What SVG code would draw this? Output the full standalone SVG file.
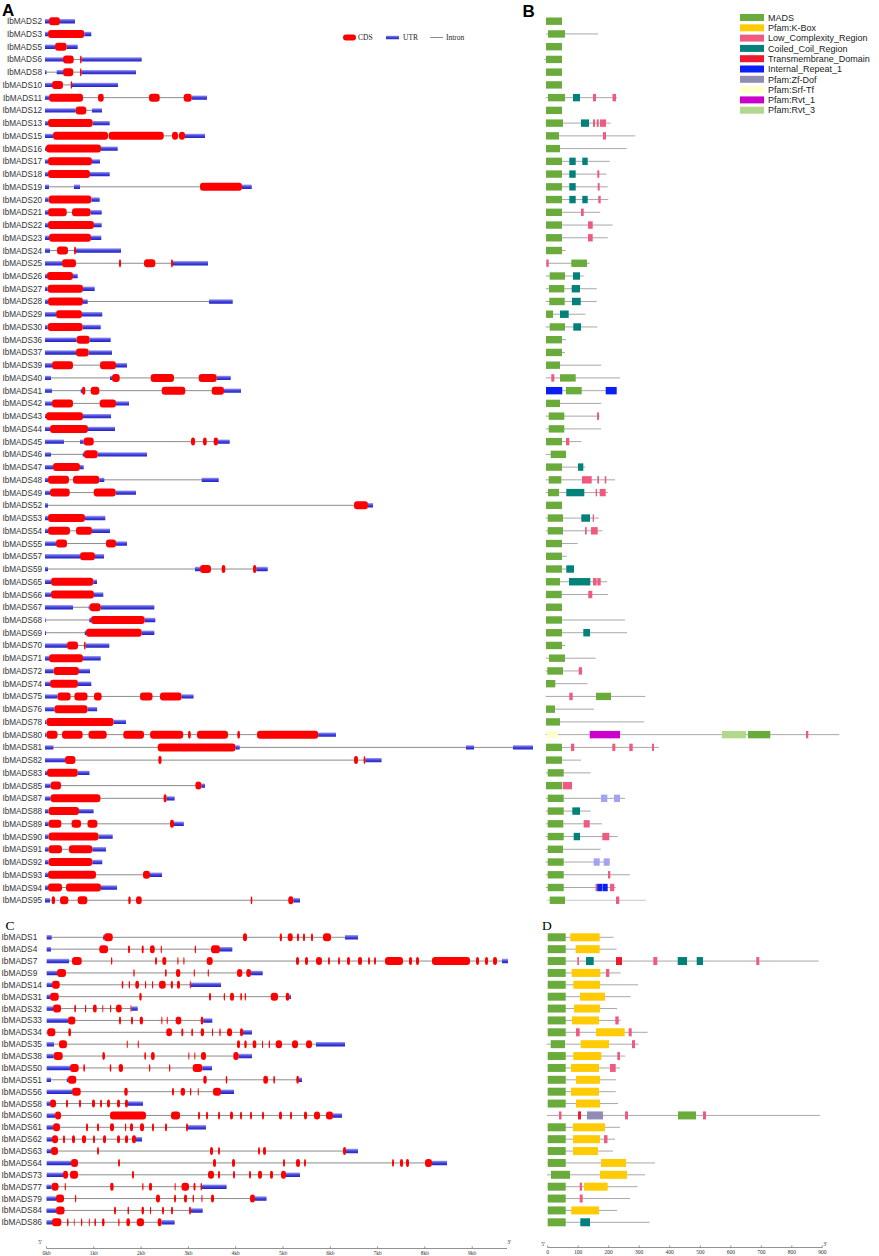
<svg xmlns="http://www.w3.org/2000/svg" width="879" height="1256" viewBox="0 0 879 1256">
<defs>
<linearGradient id="ug" gradientUnits="userSpaceOnUse" x1="0" y1="-2.2" x2="0" y2="2.2"><stop offset="0" stop-color="#a4a4f2"/><stop offset="0.45" stop-color="#4848de"/><stop offset="1" stop-color="#2222c4"/></linearGradient>
</defs>
<style>
text{font-family:"Liberation Sans",Arial,sans-serif}
.ta{font-size:8.2px;fill:#333;text-anchor:end}
.tc{font-size:8.4px;fill:#333}
.i{stroke:#8c8c8c;stroke-width:1;fill:none}
.u{stroke:url(#ug);stroke-width:4.4;fill:none}
.c{fill:#ff0000}
.bl{stroke:#a8a8a8;stroke-width:1;fill:none}
.m{fill:#6aac3c}
.k{fill:#ffcb05}
.lc{fill:#ef5b80}
.cc{fill:#00817a}
.tm{fill:#ec1b2e}
.ir{fill:#0a1ff5}
.zf{fill:#908cb4}
.sr{fill:#ffffcc}
.r1{fill:#cc00cc}
.r3{fill:#b2d88c}
.lv{fill:#a3a3f5}
.ax{stroke:#777;stroke-width:0.8;fill:none}
.tx{font-family:"Liberation Serif","Times New Roman",serif;font-size:5.5px;fill:#333;text-anchor:middle}
.lg{font-size:9px;fill:#222}
.ls{font-family:"Liberation Serif","Times New Roman",serif;font-size:7.5px;fill:#222}
.pa{font-size:17px;font-weight:bold;fill:#000}
.pc{font-family:"Liberation Serif","Times New Roman",serif;font-size:13.5px;fill:#000}
</style>
<rect width="879" height="1256" fill="#fff"/>
<g id="panel-labels">
<text class="pa" x="2" y="16">A</text>
<text class="pa" x="522.5" y="17">B</text>
<text class="pc" x="5.5" y="929.5">C</text>
<text class="pc" x="542" y="930">D</text>
</g>
<g id="legend-A">
<rect class="c" x="343" y="34.5" width="13" height="6" rx="3"/>
<text class="ls" x="358" y="40">CDS</text>
<g transform="translate(0,37.5)"><path class="u" style="stroke-width:3.5" d="M386 0H399"/></g>
<text class="ls" x="403" y="40">UTR</text>
<path class="i" d="M430 37.5H443"/>
<text class="ls" x="446" y="40">Intron</text>
</g>
<g id="legend-B">
<rect class="m" x="740" y="14" width="24" height="7"/><text class="lg" x="768" y="20.7">MADS</text>
<rect class="k" x="740" y="24.3" width="24" height="7"/><text class="lg" x="768" y="31">Pfam:K-Box</text>
<rect class="lc" x="740" y="34.6" width="24" height="7"/><text class="lg" x="768" y="41.3">Low_Complexity_Region</text>
<rect class="cc" x="740" y="44.9" width="24" height="7"/><text class="lg" x="768" y="51.6">Coiled_Coil_Region</text>
<rect class="tm" x="740" y="55.2" width="24" height="7"/><text class="lg" x="768" y="61.9">Transmembrane_Domain</text>
<rect class="ir" x="740" y="65.5" width="24" height="7"/><text class="lg" x="768" y="72.2">Internal_Repeat_1</text>
<rect class="zf" x="740" y="75.8" width="24" height="7"/><text class="lg" x="768" y="82.5">Pfam:Zf-Dof</text>
<rect class="sr" x="740" y="86.1" width="24" height="7"/><text class="lg" x="768" y="92.8">Pfam:Srf-Tf</text>
<rect class="r1" x="740" y="96.4" width="24" height="7"/><text class="lg" x="768" y="103.1">Pfam:Rvt_1</text>
<rect class="r3" x="740" y="106.7" width="24" height="7"/><text class="lg" x="768" y="113.4">Pfam:Rvt_3</text>
</g>
<g id="panel-A">
<g id="A-IbMADS2" transform="translate(0,21.2)"><text class="ta" x="42" y="3">IbMADS2</text><path class="u" d="M45 0H49M60 0H75"/><g class="c"><rect x="49" y="-4" width="11" height="8" rx="3"/></g></g>
<g id="A-IbMADS3" transform="translate(0,33.94)"><text class="ta" x="42" y="3">IbMADS3</text><path class="u" d="M45 0H48M84.3 0H91.3"/><g class="c"><rect x="48" y="-4" width="36.3" height="8" rx="3"/></g></g>
<g id="A-IbMADS5" transform="translate(0,46.68)"><text class="ta" x="42" y="3">IbMADS5</text><path class="u" d="M45 0H55M66.7 0H77.7"/><g class="c"><rect x="55" y="-4" width="11.7" height="8" rx="3"/></g></g>
<g id="A-IbMADS6" transform="translate(0,59.42)"><text class="ta" x="42" y="3">IbMADS6</text><path class="i" d="M45 0H141.7"/><path class="u" d="M45 0H63M81.7 0H141.7"/><g class="c"><rect x="63" y="-4" width="10.7" height="8" rx="3"/><rect x="80" y="-4" width="1.7" height="8" rx="3"/></g></g>
<g id="A-IbMADS8" transform="translate(0,72.16)"><text class="ta" x="42" y="3">IbMADS8</text><path class="i" d="M45 0H136"/><path class="u" d="M45 0H46.5M56.7 0H63M81.3 0H136"/><g class="c"><rect x="63" y="-4" width="10.3" height="8" rx="3"/><rect x="80" y="-4" width="1.5" height="8" rx="3"/></g></g>
<g id="A-IbMADS10" transform="translate(0,84.9)"><text class="ta" x="42" y="3">IbMADS10</text><path class="i" d="M45 0H118"/><path class="u" d="M45 0H52M71.9 0H118"/><g class="c"><rect x="52" y="-4" width="11" height="8" rx="3"/><rect x="70.7" y="-4" width="1.5" height="8" rx="3"/></g></g>
<g id="A-IbMADS11" transform="translate(0,97.64)"><text class="ta" x="42" y="3">IbMADS11</text><path class="i" d="M45 0H207"/><path class="u" d="M45 0H49M191.7 0H207"/><g class="c"><rect x="49" y="-4" width="34" height="8" rx="3"/><rect x="98" y="-4" width="5.7" height="8" rx="3"/><rect x="149" y="-4" width="10.7" height="8" rx="3"/><rect x="183.7" y="-4" width="8" height="8" rx="3"/></g></g>
<g id="A-IbMADS12" transform="translate(0,110.38)"><text class="ta" x="42" y="3">IbMADS12</text><path class="i" d="M45 0H102"/><path class="u" d="M45 0H75.7M92 0H102"/><g class="c"><rect x="75.7" y="-4" width="10.6" height="8" rx="3"/></g></g>
<g id="A-IbMADS13" transform="translate(0,123.12)"><text class="ta" x="42" y="3">IbMADS13</text><path class="u" d="M45 0H48M92.7 0H109.7"/><g class="c"><rect x="48" y="-4" width="44.7" height="8" rx="3"/></g></g>
<g id="A-IbMADS15" transform="translate(0,135.86)"><text class="ta" x="42" y="3">IbMADS15</text><path class="i" d="M45 0H205"/><path class="u" d="M45 0H53M185 0H205"/><g class="c"><rect x="53" y="-4" width="55" height="8" rx="3"/><rect x="108.7" y="-4" width="55" height="8" rx="3"/><rect x="172" y="-4" width="6" height="8" rx="3"/><rect x="179" y="-4" width="6" height="8" rx="3"/></g></g>
<g id="A-IbMADS16" transform="translate(0,148.6)"><text class="ta" x="42" y="3">IbMADS16</text><path class="u" d="M45 0H46M101 0H117.7"/><g class="c"><rect x="46" y="-4" width="55" height="8" rx="3"/></g></g>
<g id="A-IbMADS17" transform="translate(0,161.34)"><text class="ta" x="42" y="3">IbMADS17</text><path class="u" d="M45 0H48M92 0H100"/><g class="c"><rect x="48" y="-4" width="44" height="8" rx="3"/></g></g>
<g id="A-IbMADS18" transform="translate(0,174.08)"><text class="ta" x="42" y="3">IbMADS18</text><path class="u" d="M45 0H48M90 0H109.7"/><g class="c"><rect x="48" y="-4" width="42" height="8" rx="3"/></g></g>
<g id="A-IbMADS19" transform="translate(0,186.82)"><text class="ta" x="42" y="3">IbMADS19</text><path class="i" d="M45 0H251.7"/><path class="u" d="M45 0H49M74 0H80M242 0H251.7"/><g class="c"><rect x="200" y="-4" width="42" height="8" rx="3"/></g></g>
<g id="A-IbMADS20" transform="translate(0,199.56)"><text class="ta" x="42" y="3">IbMADS20</text><path class="u" d="M45 0H48.7M91.3 0H99.7"/><g class="c"><rect x="48.7" y="-4" width="42.6" height="8" rx="3"/></g></g>
<g id="A-IbMADS21" transform="translate(0,212.3)"><text class="ta" x="42" y="3">IbMADS21</text><path class="i" d="M45 0H101.7"/><path class="u" d="M45 0H48M90.7 0H101.7"/><g class="c"><rect x="48" y="-4" width="18.7" height="8" rx="3"/><rect x="72" y="-4" width="18.7" height="8" rx="3"/></g></g>
<g id="A-IbMADS22" transform="translate(0,225.04)"><text class="ta" x="42" y="3">IbMADS22</text><path class="u" d="M45 0H48M94 0H101.7"/><g class="c"><rect x="48" y="-4" width="46" height="8" rx="3"/></g></g>
<g id="A-IbMADS23" transform="translate(0,237.78)"><text class="ta" x="42" y="3">IbMADS23</text><path class="u" d="M45 0H49M91 0H101.3"/><g class="c"><rect x="49" y="-4" width="42" height="8" rx="3"/></g></g>
<g id="A-IbMADS24" transform="translate(0,250.52)"><text class="ta" x="42" y="3">IbMADS24</text><path class="i" d="M45 0H121"/><path class="u" d="M45 0H50M76 0H121"/><g class="c"><rect x="57" y="-4" width="11" height="8" rx="3"/><rect x="74" y="-4" width="2" height="8" rx="3"/></g></g>
<g id="A-IbMADS25" transform="translate(0,263.26)"><text class="ta" x="42" y="3">IbMADS25</text><path class="i" d="M45 0H208"/><path class="u" d="M45 0H62M173 0H208"/><g class="c"><rect x="62" y="-4" width="14" height="8" rx="3"/><rect x="119" y="-4" width="2" height="8" rx="3"/><rect x="144" y="-4" width="11.3" height="8" rx="3"/><rect x="171" y="-4" width="2" height="8" rx="3"/></g></g>
<g id="A-IbMADS26" transform="translate(0,276)"><text class="ta" x="42" y="3">IbMADS26</text><path class="u" d="M45 0H47M73 0H77.7"/><g class="c"><rect x="47" y="-4" width="26" height="8" rx="3"/></g></g>
<g id="A-IbMADS27" transform="translate(0,288.74)"><text class="ta" x="42" y="3">IbMADS27</text><path class="u" d="M45 0H47.7M83 0H94.7"/><g class="c"><rect x="47.7" y="-4" width="35.3" height="8" rx="3"/></g></g>
<g id="A-IbMADS28" transform="translate(0,301.48)"><text class="ta" x="42" y="3">IbMADS28</text><path class="i" d="M45 0H232.7"/><path class="u" d="M45 0H48M83 0H87.7M209 0H232.7"/><g class="c"><rect x="48" y="-4" width="35" height="8" rx="3"/></g></g>
<g id="A-IbMADS29" transform="translate(0,314.22)"><text class="ta" x="42" y="3">IbMADS29</text><path class="u" d="M45 0H56M82 0H102.3"/><g class="c"><rect x="56" y="-4" width="26" height="8" rx="3"/></g></g>
<g id="A-IbMADS30" transform="translate(0,326.96)"><text class="ta" x="42" y="3">IbMADS30</text><path class="u" d="M45 0H47.7M82.7 0H100.7"/><g class="c"><rect x="47.7" y="-4" width="35" height="8" rx="3"/></g></g>
<g id="A-IbMADS36" transform="translate(0,339.7)"><text class="ta" x="42" y="3">IbMADS36</text><path class="u" d="M45 0H76.7M89.7 0H110.7"/><g class="c"><rect x="76.7" y="-4" width="13" height="8" rx="3"/></g></g>
<g id="A-IbMADS37" transform="translate(0,352.44)"><text class="ta" x="42" y="3">IbMADS37</text><path class="u" d="M45 0H76M88.7 0H112"/><g class="c"><rect x="76" y="-4" width="12.7" height="8" rx="3"/></g></g>
<g id="A-IbMADS39" transform="translate(0,365.18)"><text class="ta" x="42" y="3">IbMADS39</text><path class="i" d="M45 0H127"/><path class="u" d="M45 0H52M116 0H127"/><g class="c"><rect x="52" y="-4" width="21" height="8" rx="3"/><rect x="100" y="-4" width="16" height="8" rx="3"/></g></g>
<g id="A-IbMADS40" transform="translate(0,377.92)"><text class="ta" x="42" y="3">IbMADS40</text><path class="i" d="M45 0H230.7"/><path class="u" d="M45 0H51M110 0H112M216.7 0H230.7"/><g class="c"><rect x="112" y="-4" width="7.7" height="8" rx="3"/><rect x="150.7" y="-4" width="23.3" height="8" rx="3"/><rect x="198.7" y="-4" width="18" height="8" rx="3"/></g></g>
<g id="A-IbMADS41" transform="translate(0,390.66)"><text class="ta" x="42" y="3">IbMADS41</text><path class="i" d="M45 0H241"/><path class="u" d="M45 0H52M80.7 0H82M224 0H241"/><g class="c"><rect x="82" y="-4" width="3.3" height="8" rx="3"/><rect x="90.7" y="-4" width="8.6" height="8" rx="3"/><rect x="161.7" y="-4" width="23.6" height="8" rx="3"/><rect x="211.7" y="-4" width="12.3" height="8" rx="3"/></g></g>
<g id="A-IbMADS42" transform="translate(0,403.4)"><text class="ta" x="42" y="3">IbMADS42</text><path class="i" d="M45 0H129"/><path class="u" d="M45 0H52M116 0H129"/><g class="c"><rect x="52" y="-4" width="21" height="8" rx="3"/><rect x="99.7" y="-4" width="16.3" height="8" rx="3"/></g></g>
<g id="A-IbMADS43" transform="translate(0,416.14)"><text class="ta" x="42" y="3">IbMADS43</text><path class="u" d="M45 0H46M83 0H111"/><g class="c"><rect x="46" y="-4" width="37" height="8" rx="3"/></g></g>
<g id="A-IbMADS44" transform="translate(0,428.88)"><text class="ta" x="42" y="3">IbMADS44</text><path class="u" d="M45 0H50M88 0H115"/><g class="c"><rect x="50" y="-4" width="38" height="8" rx="3"/></g></g>
<g id="A-IbMADS45" transform="translate(0,441.62)"><text class="ta" x="42" y="3">IbMADS45</text><path class="i" d="M45 0H229.7"/><path class="u" d="M45 0H64M80 0H83.7M218 0H229.7"/><g class="c"><rect x="83.7" y="-4" width="10" height="8" rx="3"/><rect x="191" y="-4" width="4" height="8" rx="3"/><rect x="203" y="-4" width="3.7" height="8" rx="3"/><rect x="213.7" y="-4" width="4.3" height="8" rx="3"/></g></g>
<g id="A-IbMADS46" transform="translate(0,454.36)"><text class="ta" x="42" y="3">IbMADS46</text><path class="i" d="M45 0H147"/><path class="u" d="M45 0H51M82.7 0H84M97.7 0H147"/><g class="c"><rect x="84" y="-4" width="13.7" height="8" rx="3"/></g></g>
<g id="A-IbMADS47" transform="translate(0,467.1)"><text class="ta" x="42" y="3">IbMADS47</text><path class="u" d="M45 0H53M80 0H83.7"/><g class="c"><rect x="53" y="-4" width="27" height="8" rx="3"/></g></g>
<g id="A-IbMADS48" transform="translate(0,479.84)"><text class="ta" x="42" y="3">IbMADS48</text><path class="i" d="M45 0H218.7"/><path class="u" d="M45 0H48M99.3 0H104.3M201.7 0H218.7"/><g class="c"><rect x="48" y="-4" width="21" height="8" rx="3"/><rect x="73" y="-4" width="26.3" height="8" rx="3"/></g></g>
<g id="A-IbMADS49" transform="translate(0,492.58)"><text class="ta" x="42" y="3">IbMADS49</text><path class="i" d="M45 0H136"/><path class="u" d="M45 0H50M115.7 0H136"/><g class="c"><rect x="50" y="-4" width="19.7" height="8" rx="3"/><rect x="93.7" y="-4" width="22" height="8" rx="3"/></g></g>
<g id="A-IbMADS52" transform="translate(0,505.32)"><text class="ta" x="42" y="3">IbMADS52</text><path class="i" d="M45 0H373"/><path class="u" d="M45 0H48M368 0H373"/><g class="c"><rect x="354" y="-4" width="14" height="8" rx="3"/></g></g>
<g id="A-IbMADS53" transform="translate(0,518.06)"><text class="ta" x="42" y="3">IbMADS53</text><path class="u" d="M45 0H48M85 0H105.3"/><g class="c"><rect x="48" y="-4" width="37" height="8" rx="3"/></g></g>
<g id="A-IbMADS54" transform="translate(0,530.8)"><text class="ta" x="42" y="3">IbMADS54</text><path class="i" d="M45 0H110"/><path class="u" d="M45 0H48M92 0H110"/><g class="c"><rect x="48" y="-4" width="22" height="8" rx="3"/><rect x="76" y="-4" width="16" height="8" rx="3"/></g></g>
<g id="A-IbMADS55" transform="translate(0,543.54)"><text class="ta" x="42" y="3">IbMADS55</text><path class="i" d="M45 0H127"/><path class="u" d="M45 0H56M116 0H127"/><g class="c"><rect x="56" y="-4" width="11" height="8" rx="3"/><rect x="106" y="-4" width="10" height="8" rx="3"/></g></g>
<g id="A-IbMADS57" transform="translate(0,556.28)"><text class="ta" x="42" y="3">IbMADS57</text><path class="u" d="M45 0H80M95 0H104"/><g class="c"><rect x="80" y="-4" width="15" height="8" rx="3"/></g></g>
<g id="A-IbMADS59" transform="translate(0,569.02)"><text class="ta" x="42" y="3">IbMADS59</text><path class="i" d="M45 0H267.7"/><path class="u" d="M45 0H48M195 0H200M256.3 0H267.7"/><g class="c"><rect x="200" y="-4" width="11" height="8" rx="3"/><rect x="221.7" y="-4" width="3.6" height="8" rx="3"/><rect x="253" y="-4" width="3.3" height="8" rx="3"/></g></g>
<g id="A-IbMADS65" transform="translate(0,581.76)"><text class="ta" x="42" y="3">IbMADS65</text><path class="u" d="M45 0H51M93.3 0H97"/><g class="c"><rect x="51" y="-4" width="42.3" height="8" rx="3"/></g></g>
<g id="A-IbMADS66" transform="translate(0,594.5)"><text class="ta" x="42" y="3">IbMADS66</text><path class="u" d="M45 0H51M94 0H103.3"/><g class="c"><rect x="51" y="-4" width="43" height="8" rx="3"/></g></g>
<g id="A-IbMADS67" transform="translate(0,607.24)"><text class="ta" x="42" y="3">IbMADS67</text><path class="i" d="M45 0H154.3"/><path class="u" d="M45 0H73M88.7 0H89.7M100.7 0H154.3"/><g class="c"><rect x="89.7" y="-4" width="11" height="8" rx="3"/></g></g>
<g id="A-IbMADS68" transform="translate(0,619.98)"><text class="ta" x="42" y="3">IbMADS68</text><path class="i" d="M45 0H155.3"/><path class="u" d="M45 0H45.7M89.3 0H91M144.7 0H155.3"/><g class="c"><rect x="91" y="-4" width="53.7" height="8" rx="3"/></g></g>
<g id="A-IbMADS69" transform="translate(0,632.72)"><text class="ta" x="42" y="3">IbMADS69</text><path class="i" d="M45 0H154.3"/><path class="u" d="M45 0H46M84.7 0H86M141.7 0H154.3"/><g class="c"><rect x="86" y="-4" width="55.7" height="8" rx="3"/></g></g>
<g id="A-IbMADS70" transform="translate(0,645.46)"><text class="ta" x="42" y="3">IbMADS70</text><path class="i" d="M45 0H109.3"/><path class="u" d="M45 0H67M85.7 0H109.3"/><g class="c"><rect x="67" y="-4" width="11" height="8" rx="3"/><rect x="84" y="-4" width="1.7" height="8" rx="3"/></g></g>
<g id="A-IbMADS71" transform="translate(0,658.2)"><text class="ta" x="42" y="3">IbMADS71</text><path class="u" d="M45 0H49M83 0H100.7"/><g class="c"><rect x="49" y="-4" width="34" height="8" rx="3"/></g></g>
<g id="A-IbMADS72" transform="translate(0,670.94)"><text class="ta" x="42" y="3">IbMADS72</text><path class="u" d="M45 0H53.7M79 0H90"/><g class="c"><rect x="53.7" y="-4" width="25.3" height="8" rx="3"/></g></g>
<g id="A-IbMADS74" transform="translate(0,683.68)"><text class="ta" x="42" y="3">IbMADS74</text><path class="u" d="M45 0H50M78 0H91.3"/><g class="c"><rect x="50" y="-4" width="28" height="8" rx="3"/></g></g>
<g id="A-IbMADS75" transform="translate(0,696.42)"><text class="ta" x="42" y="3">IbMADS75</text><path class="i" d="M45 0H193.5"/><path class="u" d="M45 0H57.5M181.5 0H193.5"/><g class="c"><rect x="57.5" y="-4" width="13.1" height="8" rx="3"/><rect x="74.4" y="-4" width="13.1" height="8" rx="3"/><rect x="94" y="-4" width="7.6" height="8" rx="3"/><rect x="140" y="-4" width="12.5" height="8" rx="3"/><rect x="160" y="-4" width="21.5" height="8" rx="3"/></g></g>
<g id="A-IbMADS76" transform="translate(0,709.16)"><text class="ta" x="42" y="3">IbMADS76</text><path class="u" d="M45 0H54.4M87.5 0H97.1"/><g class="c"><rect x="54.4" y="-4" width="33.1" height="8" rx="3"/></g></g>
<g id="A-IbMADS78" transform="translate(0,721.9)"><text class="ta" x="42" y="3">IbMADS78</text><path class="u" d="M45 0H46.5M113.6 0H126"/><g class="c"><rect x="46.5" y="-4" width="67.1" height="8" rx="3"/></g></g>
<g id="A-IbMADS80" transform="translate(0,734.64)"><text class="ta" x="42" y="3">IbMADS80</text><path class="i" d="M45 0H336"/><path class="u" d="M45 0H46.5M318.2 0H336"/><g class="c"><rect x="46.5" y="-4" width="11" height="8" rx="3"/><rect x="62" y="-4" width="20.6" height="8" rx="3"/><rect x="88.5" y="-4" width="18.2" height="8" rx="3"/><rect x="123.3" y="-4" width="20.7" height="8" rx="3"/><rect x="150.1" y="-4" width="33.1" height="8" rx="3"/><rect x="188" y="-4" width="2.8" height="8" rx="3"/><rect x="197" y="-4" width="31" height="8" rx="3"/><rect x="237.3" y="-4" width="2.7" height="8" rx="3"/><rect x="257" y="-4" width="61.2" height="8" rx="3"/></g></g>
<g id="A-IbMADS81" transform="translate(0,747.38)"><text class="ta" x="42" y="3">IbMADS81</text><path class="i" d="M45 0H533"/><path class="u" d="M45 0H53.4M235.5 0H239.7M466 0H474M513 0H533"/><g class="c"><rect x="157.7" y="-4" width="77.8" height="8" rx="3"/></g></g>
<g id="A-IbMADS82" transform="translate(0,760.12)"><text class="ta" x="42" y="3">IbMADS82</text><path class="i" d="M45 0H381.5"/><path class="u" d="M45 0H65M365.3 0H381.5"/><g class="c"><rect x="65" y="-4" width="10.4" height="8" rx="3"/><rect x="158.3" y="-4" width="3.3" height="8" rx="3"/><rect x="354" y="-4" width="4" height="8" rx="3"/><rect x="363.6" y="-4" width="1.7" height="8" rx="3"/></g></g>
<g id="A-IbMADS83" transform="translate(0,772.86)"><text class="ta" x="42" y="3">IbMADS83</text><path class="u" d="M45 0H47M77.8 0H89.5"/><g class="c"><rect x="47" y="-4" width="30.8" height="8" rx="3"/></g></g>
<g id="A-IbMADS85" transform="translate(0,785.6)"><text class="ta" x="42" y="3">IbMADS85</text><path class="i" d="M45 0H205"/><path class="u" d="M45 0H50.6M201.4 0H205"/><g class="c"><rect x="50.6" y="-4" width="10.4" height="8" rx="3"/><rect x="195.4" y="-4" width="6" height="8" rx="3"/></g></g>
<g id="A-IbMADS87" transform="translate(0,798.34)"><text class="ta" x="42" y="3">IbMADS87</text><path class="i" d="M45 0H174.6"/><path class="u" d="M45 0H50.6M166.6 0H174.6"/><g class="c"><rect x="50.6" y="-4" width="49.8" height="8" rx="3"/><rect x="163.6" y="-4" width="3" height="8" rx="3"/></g></g>
<g id="A-IbMADS88" transform="translate(0,811.08)"><text class="ta" x="42" y="3">IbMADS88</text><path class="u" d="M45 0H48.6M79 0H93.6"/><g class="c"><rect x="48.6" y="-4" width="30.4" height="8" rx="3"/></g></g>
<g id="A-IbMADS89" transform="translate(0,823.82)"><text class="ta" x="42" y="3">IbMADS89</text><path class="i" d="M45 0H183.8"/><path class="u" d="M45 0H48.6M174 0H183.8"/><g class="c"><rect x="48.6" y="-4" width="12.7" height="8" rx="3"/><rect x="71.6" y="-4" width="9.4" height="8" rx="3"/><rect x="87.5" y="-4" width="9.9" height="8" rx="3"/><rect x="170" y="-4" width="4" height="8" rx="3"/></g></g>
<g id="A-IbMADS90" transform="translate(0,836.56)"><text class="ta" x="42" y="3">IbMADS90</text><path class="u" d="M45 0H48.6M98.5 0H112.7"/><g class="c"><rect x="48.6" y="-4" width="49.9" height="8" rx="3"/></g></g>
<g id="A-IbMADS91" transform="translate(0,849.3)"><text class="ta" x="42" y="3">IbMADS91</text><path class="i" d="M45 0H106"/><path class="u" d="M45 0H48.6M92.3 0H106"/><g class="c"><rect x="48.6" y="-4" width="13.4" height="8" rx="3"/><rect x="68.9" y="-4" width="23.4" height="8" rx="3"/></g></g>
<g id="A-IbMADS92" transform="translate(0,862.04)"><text class="ta" x="42" y="3">IbMADS92</text><path class="u" d="M45 0H48.6M92.3 0H102.3"/><g class="c"><rect x="48.6" y="-4" width="43.7" height="8" rx="3"/></g></g>
<g id="A-IbMADS93" transform="translate(0,874.78)"><text class="ta" x="42" y="3">IbMADS93</text><path class="i" d="M45 0H162"/><path class="u" d="M45 0H48M150 0H162"/><g class="c"><rect x="48" y="-4" width="48" height="8" rx="3"/><rect x="143" y="-4" width="7" height="8" rx="3"/></g></g>
<g id="A-IbMADS94" transform="translate(0,887.52)"><text class="ta" x="42" y="3">IbMADS94</text><path class="i" d="M45 0H117"/><path class="u" d="M45 0H48M101 0H117"/><g class="c"><rect x="48" y="-4" width="14" height="8" rx="3"/><rect x="66" y="-4" width="35" height="8" rx="3"/></g></g>
<g id="A-IbMADS95" transform="translate(0,900.26)"><text class="ta" x="42" y="3">IbMADS95</text><path class="i" d="M45 0H300"/><path class="u" d="M45 0H50M293.3 0H300"/><g class="c"><rect x="51.7" y="-4" width="3.3" height="8" rx="3"/><rect x="60" y="-4" width="8.3" height="8" rx="3"/><rect x="77.7" y="-4" width="9.6" height="8" rx="3"/><rect x="128.3" y="-4" width="2.4" height="8" rx="3"/><rect x="136" y="-4" width="5.7" height="8" rx="3"/><rect x="250.7" y="-4" width="1.6" height="8" rx="3"/><rect x="288.3" y="-4" width="5" height="8" rx="3"/></g></g>
</g>
<g id="panel-B">
<g id="B-IbMADS2" transform="translate(0,21.2)"><rect class="m" x="546" y="-3.7" width="16" height="7.4"/></g>
<g id="B-IbMADS3" transform="translate(0,33.94)"><path class="bl" d="M546 0H598"/><rect class="m" x="548" y="-3.7" width="17" height="7.4"/></g>
<g id="B-IbMADS5" transform="translate(0,46.68)"><rect class="m" x="546" y="-3.7" width="16" height="7.4"/></g>
<g id="B-IbMADS6" transform="translate(0,59.42)"><path class="bl" d="M544.5 0H562"/><rect class="m" x="546" y="-3.7" width="16" height="7.4"/></g>
<g id="B-IbMADS8" transform="translate(0,72.16)"><rect class="m" x="546" y="-3.7" width="16" height="7.4"/></g>
<g id="B-IbMADS10" transform="translate(0,84.9)"><rect class="m" x="546" y="-3.7" width="16" height="7.4"/></g>
<g id="B-IbMADS11" transform="translate(0,97.64)"><path class="bl" d="M545.5 0H617"/><rect class="m" x="548" y="-3.7" width="17" height="7.4"/><rect class="cc" x="573" y="-3.7" width="7" height="7.4"/><rect class="lc" x="593" y="-3.7" width="3" height="7.4"/><rect class="lc" x="612.5" y="-3.7" width="3.5" height="7.4"/></g>
<g id="B-IbMADS12" transform="translate(0,110.38)"><rect class="m" x="546" y="-3.7" width="16" height="7.4"/></g>
<g id="B-IbMADS13" transform="translate(0,123.12)"><path class="bl" d="M545.5 0H610.7"/><rect class="m" x="546" y="-3.7" width="17" height="7.4"/><rect class="cc" x="581" y="-3.7" width="8" height="7.4"/><rect class="lc" x="593" y="-3.7" width="2" height="7.4"/><rect class="lc" x="596.7" y="-3.7" width="2" height="7.4"/><rect class="lc" x="600" y="-3.7" width="6" height="7.4"/></g>
<g id="B-IbMADS15" transform="translate(0,135.86)"><path class="bl" d="M546 0H635.3"/><rect class="m" x="546" y="-3.7" width="13" height="7.4"/><rect class="lc" x="603" y="-3.7" width="3" height="7.4"/></g>
<g id="B-IbMADS16" transform="translate(0,148.6)"><path class="bl" d="M546 0H626.7"/><rect class="m" x="546" y="-3.7" width="14" height="7.4"/></g>
<g id="B-IbMADS17" transform="translate(0,161.34)"><path class="bl" d="M546 0H609.7"/><rect class="m" x="546" y="-3.7" width="16" height="7.4"/><rect class="cc" x="569.3" y="-3.7" width="6.4" height="7.4"/><rect class="cc" x="582.3" y="-3.7" width="5.4" height="7.4"/></g>
<g id="B-IbMADS18" transform="translate(0,174.08)"><path class="bl" d="M546 0H606.7"/><rect class="m" x="546" y="-3.7" width="16" height="7.4"/><rect class="cc" x="569.3" y="-3.7" width="6.4" height="7.4"/><rect class="lc" x="597.3" y="-3.7" width="2" height="7.4"/></g>
<g id="B-IbMADS19" transform="translate(0,186.82)"><path class="bl" d="M546 0H607.7"/><rect class="m" x="546" y="-3.7" width="16" height="7.4"/><rect class="cc" x="569.3" y="-3.7" width="6.4" height="7.4"/><rect class="lc" x="597.7" y="-3.7" width="2" height="7.4"/></g>
<g id="B-IbMADS20" transform="translate(0,199.56)"><path class="bl" d="M546 0H608.3"/><rect class="m" x="546" y="-3.7" width="16" height="7.4"/><rect class="cc" x="569.3" y="-3.7" width="6.4" height="7.4"/><rect class="cc" x="582.3" y="-3.7" width="5.4" height="7.4"/><rect class="lc" x="598.3" y="-3.7" width="2.4" height="7.4"/></g>
<g id="B-IbMADS21" transform="translate(0,212.3)"><path class="bl" d="M546 0H600.3"/><rect class="m" x="546" y="-3.7" width="16" height="7.4"/><rect class="lc" x="581" y="-3.7" width="2.7" height="7.4"/></g>
<g id="B-IbMADS22" transform="translate(0,225.04)"><path class="bl" d="M546 0H612.7"/><rect class="m" x="546" y="-3.7" width="16" height="7.4"/><rect class="lc" x="588" y="-3.7" width="4.7" height="7.4"/></g>
<g id="B-IbMADS23" transform="translate(0,237.78)"><path class="bl" d="M546 0H607.7"/><rect class="m" x="546" y="-3.7" width="16" height="7.4"/><rect class="lc" x="588" y="-3.7" width="4.7" height="7.4"/></g>
<g id="B-IbMADS24" transform="translate(0,250.52)"><path class="bl" d="M546 0H565.7"/><rect class="m" x="546" y="-3.7" width="16" height="7.4"/></g>
<g id="B-IbMADS25" transform="translate(0,263.26)"><path class="bl" d="M546 0H589.7"/><rect class="lc" x="546.3" y="-3.7" width="2.4" height="7.4"/><rect class="m" x="571.3" y="-3.7" width="15.7" height="7.4"/></g>
<g id="B-IbMADS26" transform="translate(0,276)"><path class="bl" d="M545.7 0H583.7"/><rect class="m" x="549.7" y="-3.7" width="15.3" height="7.4"/><rect class="cc" x="573" y="-3.7" width="7" height="7.4"/></g>
<g id="B-IbMADS27" transform="translate(0,288.74)"><path class="bl" d="M545.7 0H596.7"/><rect class="m" x="549" y="-3.7" width="15.3" height="7.4"/><rect class="cc" x="571.7" y="-3.7" width="8.3" height="7.4"/></g>
<g id="B-IbMADS28" transform="translate(0,301.48)"><path class="bl" d="M545.7 0H596.7"/><rect class="m" x="549.3" y="-3.7" width="15.4" height="7.4"/><rect class="cc" x="572" y="-3.7" width="8.7" height="7.4"/></g>
<g id="B-IbMADS29" transform="translate(0,314.22)"><path class="bl" d="M546 0H585.3"/><rect class="m" x="546" y="-3.7" width="7" height="7.4"/><rect class="cc" x="560" y="-3.7" width="8.7" height="7.4"/></g>
<g id="B-IbMADS30" transform="translate(0,326.96)"><path class="bl" d="M545.7 0H597.3"/><rect class="m" x="549.7" y="-3.7" width="15.3" height="7.4"/><rect class="cc" x="573.3" y="-3.7" width="7.7" height="7.4"/></g>
<g id="B-IbMADS36" transform="translate(0,339.7)"><path class="bl" d="M546 0H566"/><rect class="m" x="546" y="-3.7" width="16" height="7.4"/></g>
<g id="B-IbMADS37" transform="translate(0,352.44)"><path class="bl" d="M546 0H565"/><rect class="m" x="546" y="-3.7" width="16" height="7.4"/></g>
<g id="B-IbMADS39" transform="translate(0,365.18)"><path class="bl" d="M546 0H601.3"/><rect class="m" x="546" y="-3.7" width="14" height="7.4"/></g>
<g id="B-IbMADS40" transform="translate(0,377.92)"><path class="bl" d="M545.7 0H620"/><rect class="lc" x="551.3" y="-3.7" width="3" height="7.4"/><rect class="m" x="560" y="-3.7" width="15.7" height="7.4"/></g>
<g id="B-IbMADS41" transform="translate(0,390.66)"><path class="bl" d="M546 0H616.7"/><rect class="ir" x="546" y="-3.7" width="16.3" height="7.4"/><rect class="m" x="566" y="-3.7" width="15.7" height="7.4"/><rect class="ir" x="605.7" y="-3.7" width="11" height="7.4"/></g>
<g id="B-IbMADS42" transform="translate(0,403.4)"><path class="bl" d="M546 0H601.3"/><rect class="m" x="546" y="-3.7" width="14" height="7.4"/></g>
<g id="B-IbMADS43" transform="translate(0,416.14)"><path class="bl" d="M545.7 0H599.7"/><rect class="m" x="548.7" y="-3.7" width="15.6" height="7.4"/><rect class="lc" x="597" y="-3.7" width="2" height="7.4"/></g>
<g id="B-IbMADS44" transform="translate(0,428.88)"><path class="bl" d="M545.7 0H601"/><rect class="m" x="548.7" y="-3.7" width="15.6" height="7.4"/></g>
<g id="B-IbMADS45" transform="translate(0,441.62)"><path class="bl" d="M546 0H581.7"/><rect class="m" x="546" y="-3.7" width="16" height="7.4"/><rect class="lc" x="566" y="-3.7" width="3.3" height="7.4"/></g>
<g id="B-IbMADS46" transform="translate(0,454.36)"><path class="bl" d="M545.7 0H566"/><rect class="m" x="550.7" y="-3.7" width="15.3" height="7.4"/></g>
<g id="B-IbMADS47" transform="translate(0,467.1)"><path class="bl" d="M546 0H585.3"/><rect class="m" x="546" y="-3.7" width="16" height="7.4"/><rect class="cc" x="578" y="-3.7" width="5.3" height="7.4"/></g>
<g id="B-IbMADS48" transform="translate(0,479.84)"><path class="bl" d="M545.7 0H615"/><rect class="m" x="548.7" y="-3.7" width="12.6" height="7.4"/><rect class="lc" x="582" y="-3.7" width="9.7" height="7.4"/><rect class="lc" x="597.3" y="-3.7" width="1.7" height="7.4"/><rect class="lc" x="604.7" y="-3.7" width="1.6" height="7.4"/></g>
<g id="B-IbMADS49" transform="translate(0,492.58)"><path class="bl" d="M545.7 0H608"/><rect class="m" x="548" y="-3.7" width="11" height="7.4"/><rect class="cc" x="566.3" y="-3.7" width="18" height="7.4"/><rect class="lc" x="595.7" y="-3.7" width="1.3" height="7.4"/><rect class="lc" x="599.7" y="-3.7" width="6" height="7.4"/></g>
<g id="B-IbMADS52" transform="translate(0,505.32)"><rect class="m" x="546" y="-3.7" width="16" height="7.4"/></g>
<g id="B-IbMADS53" transform="translate(0,518.06)"><path class="bl" d="M545.7 0H599"/><rect class="m" x="547.7" y="-3.7" width="15.3" height="7.4"/><rect class="cc" x="581.3" y="-3.7" width="8.7" height="7.4"/><rect class="lc" x="592.7" y="-3.7" width="1.3" height="7.4"/></g>
<g id="B-IbMADS54" transform="translate(0,530.8)"><path class="bl" d="M545.7 0H602.3"/><rect class="m" x="547.7" y="-3.7" width="15.3" height="7.4"/><rect class="lc" x="585" y="-3.7" width="1.7" height="7.4"/><rect class="lc" x="591" y="-3.7" width="6.7" height="7.4"/></g>
<g id="B-IbMADS55" transform="translate(0,543.54)"><path class="bl" d="M546 0H577.7"/><rect class="m" x="546" y="-3.7" width="16" height="7.4"/></g>
<g id="B-IbMADS57" transform="translate(0,556.28)"><path class="bl" d="M546 0H567"/><rect class="m" x="546" y="-3.7" width="16" height="7.4"/></g>
<g id="B-IbMADS59" transform="translate(0,569.02)"><path class="bl" d="M546 0H574"/><rect class="m" x="546" y="-3.7" width="16" height="7.4"/><rect class="cc" x="566.3" y="-3.7" width="7.7" height="7.4"/></g>
<g id="B-IbMADS65" transform="translate(0,581.76)"><path class="bl" d="M545.7 0H607.3"/><rect class="m" x="546" y="-3.7" width="14" height="7.4"/><rect class="cc" x="569" y="-3.7" width="21.3" height="7.4"/><rect class="lc" x="593" y="-3.7" width="3.7" height="7.4"/><rect class="lc" x="597.3" y="-3.7" width="3.4" height="7.4"/></g>
<g id="B-IbMADS66" transform="translate(0,594.5)"><path class="bl" d="M545.7 0H608"/><rect class="m" x="546" y="-3.7" width="15.7" height="7.4"/><rect class="lc" x="588.3" y="-3.7" width="4" height="7.4"/></g>
<g id="B-IbMADS67" transform="translate(0,607.24)"><rect class="m" x="546" y="-3.7" width="16" height="7.4"/></g>
<g id="B-IbMADS68" transform="translate(0,619.98)"><path class="bl" d="M546 0H625"/><rect class="m" x="546" y="-3.7" width="16" height="7.4"/></g>
<g id="B-IbMADS69" transform="translate(0,632.72)"><path class="bl" d="M546 0H627"/><rect class="m" x="546" y="-3.7" width="16" height="7.4"/><rect class="cc" x="583.3" y="-3.7" width="6.7" height="7.4"/></g>
<g id="B-IbMADS70" transform="translate(0,645.46)"><path class="bl" d="M546 0H565"/><rect class="m" x="546" y="-3.7" width="16" height="7.4"/></g>
<g id="B-IbMADS71" transform="translate(0,658.2)"><path class="bl" d="M545.7 0H595.7"/><rect class="m" x="549" y="-3.7" width="16" height="7.4"/></g>
<g id="B-IbMADS72" transform="translate(0,670.94)"><path class="bl" d="M545.7 0H582.7"/><rect class="m" x="547.3" y="-3.7" width="15.7" height="7.4"/><rect class="lc" x="578.7" y="-3.7" width="3.3" height="7.4"/></g>
<g id="B-IbMADS74" transform="translate(0,683.68)"><path class="bl" d="M546 0H587.3"/><rect class="m" x="546" y="-3.7" width="9.3" height="7.4"/></g>
<g id="B-IbMADS75" transform="translate(0,696.42)"><path class="bl" d="M545.7 0H645.3"/><rect class="lc" x="569.3" y="-3.7" width="3.4" height="7.4"/><rect class="m" x="596" y="-3.7" width="15" height="7.4"/></g>
<g id="B-IbMADS76" transform="translate(0,709.16)"><path class="bl" d="M546 0H594"/><rect class="m" x="546" y="-3.7" width="9" height="7.4"/></g>
<g id="B-IbMADS78" transform="translate(0,721.9)"><path class="bl" d="M546 0H644"/><rect class="m" x="546" y="-3.7" width="14" height="7.4"/></g>
<g id="B-IbMADS80" transform="translate(0,734.64)"><path class="bl" d="M545.7 0H839.3"/><rect class="sr" x="546.7" y="-3.7" width="11" height="7.4"/><rect class="r1" x="589.7" y="-3.7" width="30.3" height="7.4"/><rect class="r3" x="722" y="-3.7" width="24" height="7.4"/><rect class="m" x="748" y="-3.7" width="22.3" height="7.4"/><rect class="lc" x="806" y="-3.7" width="2.3" height="7.4"/></g>
<g id="B-IbMADS81" transform="translate(0,747.38)"><path class="bl" d="M546 0H659"/><rect class="m" x="546" y="-3.7" width="16" height="7.4"/><rect class="lc" x="571" y="-3.7" width="3.3" height="7.4"/><rect class="lc" x="612.3" y="-3.7" width="3" height="7.4"/><rect class="lc" x="629.3" y="-3.7" width="3.4" height="7.4"/><rect class="lc" x="652" y="-3.7" width="2" height="7.4"/></g>
<g id="B-IbMADS82" transform="translate(0,760.12)"><path class="bl" d="M546 0H581"/><rect class="m" x="546" y="-3.7" width="16" height="7.4"/></g>
<g id="B-IbMADS83" transform="translate(0,772.86)"><path class="bl" d="M545.7 0H590.7"/><rect class="m" x="547.7" y="-3.7" width="16" height="7.4"/></g>
<g id="B-IbMADS85" transform="translate(0,785.6)"><rect class="m" x="546" y="-3.7" width="16" height="7.4"/><rect class="lc" x="562.7" y="-3.7" width="9.3" height="7.4"/></g>
<g id="B-IbMADS87" transform="translate(0,798.34)"><path class="bl" d="M545.7 0H625"/><rect class="m" x="547.7" y="-3.7" width="16" height="7.4"/><rect class="lv" x="601" y="-3.7" width="6.3" height="7.4"/><rect class="lv" x="614" y="-3.7" width="6" height="7.4"/></g>
<g id="B-IbMADS88" transform="translate(0,811.08)"><path class="bl" d="M545.7 0H590.7"/><rect class="m" x="547.7" y="-3.7" width="16" height="7.4"/><rect class="cc" x="572.3" y="-3.7" width="7.7" height="7.4"/></g>
<g id="B-IbMADS89" transform="translate(0,823.82)"><path class="bl" d="M545.7 0H602"/><rect class="m" x="547.7" y="-3.7" width="15.6" height="7.4"/><rect class="lc" x="583.7" y="-3.7" width="6" height="7.4"/></g>
<g id="B-IbMADS90" transform="translate(0,836.56)"><path class="bl" d="M545.7 0H617.7"/><rect class="m" x="547.7" y="-3.7" width="16" height="7.4"/><rect class="cc" x="573.7" y="-3.7" width="6.3" height="7.4"/><rect class="lc" x="602.3" y="-3.7" width="7" height="7.4"/></g>
<g id="B-IbMADS91" transform="translate(0,849.3)"><path class="bl" d="M545.7 0H600.7"/><rect class="m" x="547.7" y="-3.7" width="15.3" height="7.4"/></g>
<g id="B-IbMADS92" transform="translate(0,862.04)"><path class="bl" d="M545.7 0H610"/><rect class="m" x="547.7" y="-3.7" width="16" height="7.4"/><rect class="lv" x="593.7" y="-3.7" width="6" height="7.4"/><rect class="lv" x="603.7" y="-3.7" width="6" height="7.4"/></g>
<g id="B-IbMADS93" transform="translate(0,874.78)"><path class="bl" d="M545.7 0H630"/><rect class="m" x="547.7" y="-3.7" width="16" height="7.4"/><rect class="lc" x="608" y="-3.7" width="2.3" height="7.4"/></g>
<g id="B-IbMADS94" transform="translate(0,887.52)"><path class="bl" d="M545.7 0H615.7"/><rect class="m" x="547.7" y="-3.7" width="16" height="7.4"/><rect class="lc" x="595.5" y="-3.7" width="1.7" height="7.4"/><rect class="ir" x="597.2" y="-3.7" width="5.1" height="7.4"/><rect class="ir" x="602.6" y="-3.7" width="5.1" height="7.4"/><rect class="lc" x="610" y="-3.7" width="4.3" height="7.4"/></g>
<g id="B-IbMADS95" transform="translate(0,900.26)"><path class="bl" style="stroke:#c8c8c8" d="M547 0H646"/><rect class="m" x="549.7" y="-3.7" width="15.3" height="7.4"/><rect class="lc" x="616" y="-3.7" width="3.3" height="7.4"/></g>
</g>
<g id="panel-C">
<g id="C-IbMADS1" transform="translate(0,937.3)"><text class="tc" x="1.5" y="3">IbMADS1</text><path class="i" d="M46.7 0H358"/><path class="u" d="M46.7 0H51.7M103 0H104M345 0H358"/><g class="c"><rect x="104" y="-4" width="8.7" height="8" rx="3"/><rect x="243" y="-4" width="4" height="8" rx="3"/><rect x="279.7" y="-4" width="2.3" height="8" rx="3"/><rect x="287.7" y="-4" width="5" height="8" rx="3"/><rect x="297" y="-4" width="2" height="8" rx="3"/><rect x="303" y="-4" width="2" height="8" rx="3"/><rect x="311" y="-4" width="2" height="8" rx="3"/><rect x="323" y="-4" width="8" height="8" rx="3"/></g></g>
<g id="C-IbMADS4" transform="translate(0,949.18)"><text class="tc" x="1.5" y="3">IbMADS4</text><path class="i" d="M46.7 0H232.3"/><path class="u" d="M46.7 0H51M220 0H232.3"/><g class="c"><rect x="99.3" y="-4" width="8.7" height="8" rx="3"/><rect x="128" y="-4" width="2" height="8" rx="3"/><rect x="141.7" y="-4" width="2" height="8" rx="3"/><rect x="150" y="-4" width="4.7" height="8" rx="3"/><rect x="160.7" y="-4" width="1.2" height="8" rx="3"/><rect x="194.7" y="-4" width="1.3" height="8" rx="3"/><rect x="211" y="-4" width="9" height="8" rx="3"/></g></g>
<g id="C-IbMADS7" transform="translate(0,961.05)"><text class="tc" x="1.5" y="3">IbMADS7</text><path class="i" d="M46.7 0H508"/><path class="u" d="M46.7 0H69M502 0H508"/><g class="c"><rect x="72" y="-4" width="9.7" height="8" rx="3"/><rect x="111" y="-4" width="1.3" height="8" rx="3"/><rect x="155" y="-4" width="2" height="8" rx="3"/><rect x="162.3" y="-4" width="4" height="8" rx="3"/><rect x="177.3" y="-4" width="1.2" height="8" rx="3"/><rect x="183.3" y="-4" width="1.2" height="8" rx="3"/><rect x="206.7" y="-4" width="6" height="8" rx="3"/><rect x="296" y="-4" width="3" height="8" rx="3"/><rect x="305" y="-4" width="3" height="8" rx="3"/><rect x="316" y="-4" width="6" height="8" rx="3"/><rect x="328" y="-4" width="2" height="8" rx="3"/><rect x="338" y="-4" width="2" height="8" rx="3"/><rect x="347" y="-4" width="3" height="8" rx="3"/><rect x="358" y="-4" width="4" height="8" rx="3"/><rect x="368" y="-4" width="2" height="8" rx="3"/><rect x="374" y="-4" width="2" height="8" rx="3"/><rect x="385" y="-4" width="18" height="8" rx="3"/><rect x="409" y="-4" width="3" height="8" rx="3"/><rect x="416" y="-4" width="3" height="8" rx="3"/><rect x="432" y="-4" width="38" height="8" rx="3"/><rect x="476" y="-4" width="3" height="8" rx="3"/><rect x="485" y="-4" width="3" height="8" rx="3"/><rect x="493" y="-4" width="4" height="8" rx="3"/></g></g>
<g id="C-IbMADS9" transform="translate(0,972.93)"><text class="tc" x="1.5" y="3">IbMADS9</text><path class="i" d="M46.7 0H262.7"/><path class="u" d="M46.7 0H57M251 0H262.7"/><g class="c"><rect x="57" y="-4" width="9" height="8" rx="3"/><rect x="133.3" y="-4" width="1.4" height="8" rx="3"/><rect x="165" y="-4" width="1.7" height="8" rx="3"/><rect x="176" y="-4" width="4.3" height="8" rx="3"/><rect x="193.7" y="-4" width="1.2" height="8" rx="3"/><rect x="207.7" y="-4" width="1.2" height="8" rx="3"/><rect x="237" y="-4" width="5.3" height="8" rx="3"/><rect x="246.3" y="-4" width="4.7" height="8" rx="3"/></g></g>
<g id="C-IbMADS14" transform="translate(0,984.8)"><text class="tc" x="1.5" y="3">IbMADS14</text><path class="i" d="M46.7 0H221"/><path class="u" d="M46.7 0H52M190.7 0H221"/><g class="c"><rect x="52" y="-4" width="7.7" height="8" rx="3"/><rect x="121.7" y="-4" width="1.6" height="8" rx="3"/><rect x="128.7" y="-4" width="1.3" height="8" rx="3"/><rect x="135.3" y="-4" width="3.7" height="8" rx="3"/><rect x="145" y="-4" width="1.2" height="8" rx="3"/><rect x="152" y="-4" width="1.2" height="8" rx="3"/><rect x="159" y="-4" width="6.7" height="8" rx="3"/><rect x="170.7" y="-4" width="2.3" height="8" rx="3"/><rect x="177" y="-4" width="3" height="8" rx="3"/><rect x="189.7" y="-4" width="1.2" height="8" rx="3"/></g></g>
<g id="C-IbMADS31" transform="translate(0,996.68)"><text class="tc" x="1.5" y="3">IbMADS31</text><path class="i" d="M46.7 0H291"/><path class="u" d="M46.7 0H50M289.3 0H291"/><g class="c"><rect x="50" y="-4" width="8.7" height="8" rx="3"/><rect x="139.3" y="-4" width="2.4" height="8" rx="3"/><rect x="209" y="-4" width="2" height="8" rx="3"/><rect x="223.7" y="-4" width="1.3" height="8" rx="3"/><rect x="230" y="-4" width="4" height="8" rx="3"/><rect x="240.3" y="-4" width="1.7" height="8" rx="3"/><rect x="244.7" y="-4" width="1.3" height="8" rx="3"/><rect x="270.7" y="-4" width="7.3" height="8" rx="3"/><rect x="285.7" y="-4" width="3.6" height="8" rx="3"/></g></g>
<g id="C-IbMADS32" transform="translate(0,1008.55)"><text class="tc" x="1.5" y="3">IbMADS32</text><path class="i" d="M46.7 0H137.7"/><path class="u" d="M46.7 0H53M131.2 0H137.7"/><g class="c"><rect x="53" y="-4" width="8" height="8" rx="3"/><rect x="74.3" y="-4" width="1.7" height="8" rx="3"/><rect x="85" y="-4" width="1.2" height="8" rx="3"/><rect x="93" y="-4" width="3.7" height="8" rx="3"/><rect x="102.3" y="-4" width="1" height="8" rx="3"/><rect x="110" y="-4" width="1.2" height="8" rx="3"/><rect x="116" y="-4" width="5.7" height="8" rx="3"/><rect x="130.5" y="-4" width="0.8" height="8" rx="3"/></g></g>
<g id="C-IbMADS33" transform="translate(0,1020.43)"><text class="tc" x="1.5" y="3">IbMADS33</text><path class="i" d="M46.7 0H212.3"/><path class="u" d="M46.7 0H68M203.3 0H212.3"/><g class="c"><rect x="68" y="-4" width="7.3" height="8" rx="3"/><rect x="119" y="-4" width="2" height="8" rx="3"/><rect x="131" y="-4" width="2" height="8" rx="3"/><rect x="139.7" y="-4" width="3.3" height="8" rx="3"/><rect x="161.3" y="-4" width="1.1" height="8" rx="3"/><rect x="166.7" y="-4" width="1.1" height="8" rx="3"/><rect x="175.7" y="-4" width="5.6" height="8" rx="3"/><rect x="200.7" y="-4" width="2.6" height="8" rx="3"/></g></g>
<g id="C-IbMADS34" transform="translate(0,1032.3)"><text class="tc" x="1.5" y="3">IbMADS34</text><path class="i" d="M46.7 0H252"/><path class="u" d="M46.7 0H47.3M243 0H252"/><g class="c"><rect x="47.3" y="-4" width="8" height="8" rx="3"/><rect x="68.3" y="-4" width="2.7" height="8" rx="3"/><rect x="166.3" y="-4" width="5.7" height="8" rx="3"/><rect x="181.3" y="-4" width="2" height="8" rx="3"/><rect x="191.3" y="-4" width="1.7" height="8" rx="3"/><rect x="200.7" y="-4" width="3.3" height="8" rx="3"/><rect x="212" y="-4" width="1.1" height="8" rx="3"/><rect x="219.3" y="-4" width="1.4" height="8" rx="3"/><rect x="227" y="-4" width="5" height="8" rx="3"/><rect x="240" y="-4" width="3" height="8" rx="3"/></g></g>
<g id="C-IbMADS35" transform="translate(0,1044.18)"><text class="tc" x="1.5" y="3">IbMADS35</text><path class="i" d="M46.7 0H345"/><path class="u" d="M46.7 0H54M316 0H345"/><g class="c"><rect x="59" y="-4" width="8" height="8" rx="3"/><rect x="126.7" y="-4" width="1.1" height="8" rx="3"/><rect x="137.7" y="-4" width="1.1" height="8" rx="3"/><rect x="237" y="-4" width="3" height="8" rx="3"/><rect x="244.3" y="-4" width="2.4" height="8" rx="3"/><rect x="252.7" y="-4" width="3.6" height="8" rx="3"/><rect x="262" y="-4" width="1.1" height="8" rx="3"/><rect x="268.7" y="-4" width="1.3" height="8" rx="3"/><rect x="275.7" y="-4" width="6.3" height="8" rx="3"/><rect x="292" y="-4" width="6" height="8" rx="3"/><rect x="306" y="-4" width="6" height="8" rx="3"/></g></g>
<g id="C-IbMADS38" transform="translate(0,1056.05)"><text class="tc" x="1.5" y="3">IbMADS38</text><path class="i" d="M46.7 0H252"/><path class="u" d="M46.7 0H53.7M238.7 0H252"/><g class="c"><rect x="53.7" y="-4" width="9" height="8" rx="3"/><rect x="102.3" y="-4" width="2.7" height="8" rx="3"/><rect x="144.3" y="-4" width="1.7" height="8" rx="3"/><rect x="151" y="-4" width="3.7" height="8" rx="3"/><rect x="188.3" y="-4" width="1.1" height="8" rx="3"/><rect x="194.3" y="-4" width="1.1" height="8" rx="3"/><rect x="201" y="-4" width="5" height="8" rx="3"/><rect x="233.3" y="-4" width="5.4" height="8" rx="3"/></g></g>
<g id="C-IbMADS50" transform="translate(0,1067.93)"><text class="tc" x="1.5" y="3">IbMADS50</text><path class="i" d="M46.7 0H212"/><path class="u" d="M46.7 0H70M202.3 0H212"/><g class="c"><rect x="70" y="-4" width="8.7" height="8" rx="3"/><rect x="83.3" y="-4" width="1.7" height="8" rx="3"/><rect x="109.7" y="-4" width="1.6" height="8" rx="3"/><rect x="118.7" y="-4" width="4.3" height="8" rx="3"/><rect x="149" y="-4" width="1.3" height="8" rx="3"/><rect x="169" y="-4" width="1.3" height="8" rx="3"/><rect x="192.7" y="-4" width="9.6" height="8" rx="3"/></g></g>
<g id="C-IbMADS51" transform="translate(0,1079.8)"><text class="tc" x="1.5" y="3">IbMADS51</text><path class="i" d="M46.7 0H302"/><path class="u" d="M46.7 0H51M66.7 0H68M299 0H302"/><g class="c"><rect x="68" y="-4" width="8.3" height="8" rx="3"/><rect x="203.3" y="-4" width="3.4" height="8" rx="3"/><rect x="225.7" y="-4" width="1.6" height="8" rx="3"/><rect x="263.3" y="-4" width="4.7" height="8" rx="3"/><rect x="273.3" y="-4" width="1.7" height="8" rx="3"/><rect x="296.3" y="-4" width="2.7" height="8" rx="3"/></g></g>
<g id="C-IbMADS56" transform="translate(0,1091.68)"><text class="tc" x="1.5" y="3">IbMADS56</text><path class="i" d="M46.7 0H234"/><path class="u" d="M46.7 0H72M221 0H234"/><g class="c"><rect x="72" y="-4" width="8.7" height="8" rx="3"/><rect x="124.3" y="-4" width="3.4" height="8" rx="3"/><rect x="172" y="-4" width="2" height="8" rx="3"/><rect x="180.7" y="-4" width="4.3" height="8" rx="3"/><rect x="190" y="-4" width="1.3" height="8" rx="3"/><rect x="197.7" y="-4" width="1.1" height="8" rx="3"/><rect x="213" y="-4" width="8" height="8" rx="3"/></g></g>
<g id="C-IbMADS58" transform="translate(0,1103.55)"><text class="tc" x="1.5" y="3">IbMADS58</text><path class="i" d="M46.7 0H143"/><path class="u" d="M46.7 0H50M128 0H143"/><g class="c"><rect x="50" y="-4" width="6" height="8" rx="3"/><rect x="66" y="-4" width="2" height="8" rx="3"/><rect x="79" y="-4" width="2" height="8" rx="3"/><rect x="92" y="-4" width="3" height="8" rx="3"/><rect x="100" y="-4" width="2" height="8" rx="3"/><rect x="107" y="-4" width="3" height="8" rx="3"/><rect x="117" y="-4" width="3" height="8" rx="3"/><rect x="125" y="-4" width="3" height="8" rx="3"/></g></g>
<g id="C-IbMADS60" transform="translate(0,1115.43)"><text class="tc" x="1.5" y="3">IbMADS60</text><path class="i" d="M46.7 0H342"/><path class="u" d="M46.7 0H55M333 0H342"/><g class="c"><rect x="55" y="-4" width="6" height="8" rx="3"/><rect x="110" y="-4" width="36" height="8" rx="3"/><rect x="171" y="-4" width="9" height="8" rx="3"/><rect x="198" y="-4" width="2" height="8" rx="3"/><rect x="206" y="-4" width="2" height="8" rx="3"/><rect x="218" y="-4" width="2" height="8" rx="3"/><rect x="230" y="-4" width="3" height="8" rx="3"/><rect x="240" y="-4" width="2" height="8" rx="3"/><rect x="250" y="-4" width="2" height="8" rx="3"/><rect x="262" y="-4" width="2" height="8" rx="3"/><rect x="279" y="-4" width="3" height="8" rx="3"/><rect x="290" y="-4" width="2" height="8" rx="3"/><rect x="304" y="-4" width="3" height="8" rx="3"/><rect x="314" y="-4" width="6" height="8" rx="3"/><rect x="326" y="-4" width="7" height="8" rx="3"/></g></g>
<g id="C-IbMADS61" transform="translate(0,1127.3)"><text class="tc" x="1.5" y="3">IbMADS61</text><path class="i" d="M46.7 0H206"/><path class="u" d="M46.7 0H53M188 0H206"/><g class="c"><rect x="53" y="-4" width="7" height="8" rx="3"/><rect x="86" y="-4" width="2" height="8" rx="3"/><rect x="97" y="-4" width="2" height="8" rx="3"/><rect x="110" y="-4" width="4" height="8" rx="3"/><rect x="125" y="-4" width="1.2" height="8" rx="3"/><rect x="130" y="-4" width="3" height="8" rx="3"/><rect x="140" y="-4" width="4" height="8" rx="3"/><rect x="152" y="-4" width="2" height="8" rx="3"/><rect x="165" y="-4" width="2" height="8" rx="3"/><rect x="186" y="-4" width="2" height="8" rx="3"/></g></g>
<g id="C-IbMADS62" transform="translate(0,1139.18)"><text class="tc" x="1.5" y="3">IbMADS62</text><path class="i" d="M46.7 0H142"/><path class="u" d="M46.7 0H52M136 0H142"/><g class="c"><rect x="52" y="-4" width="6" height="8" rx="3"/><rect x="63" y="-4" width="2" height="8" rx="3"/><rect x="72" y="-4" width="3" height="8" rx="3"/><rect x="82" y="-4" width="4" height="8" rx="3"/><rect x="93" y="-4" width="2" height="8" rx="3"/><rect x="103" y="-4" width="3" height="8" rx="3"/><rect x="117" y="-4" width="3" height="8" rx="3"/><rect x="125" y="-4" width="3" height="8" rx="3"/><rect x="132" y="-4" width="4" height="8" rx="3"/></g></g>
<g id="C-IbMADS63" transform="translate(0,1151.05)"><text class="tc" x="1.5" y="3">IbMADS63</text><path class="i" d="M46.7 0H358"/><path class="u" d="M46.7 0H51M346 0H358"/><g class="c"><rect x="51" y="-4" width="7" height="8" rx="3"/><rect x="97" y="-4" width="2" height="8" rx="3"/><rect x="210" y="-4" width="3" height="8" rx="3"/><rect x="218" y="-4" width="2" height="8" rx="3"/><rect x="258" y="-4" width="2" height="8" rx="3"/><rect x="263" y="-4" width="3" height="8" rx="3"/><rect x="343" y="-4" width="3" height="8" rx="3"/></g></g>
<g id="C-IbMADS64" transform="translate(0,1162.93)"><text class="tc" x="1.5" y="3">IbMADS64</text><path class="i" d="M46.7 0H447"/><path class="u" d="M46.7 0H71M432 0H447"/><g class="c"><rect x="71" y="-4" width="7" height="8" rx="3"/><rect x="118" y="-4" width="2" height="8" rx="3"/><rect x="213" y="-4" width="3" height="8" rx="3"/><rect x="232" y="-4" width="3" height="8" rx="3"/><rect x="283" y="-4" width="2" height="8" rx="3"/><rect x="296" y="-4" width="4" height="8" rx="3"/><rect x="304" y="-4" width="2" height="8" rx="3"/><rect x="392" y="-4" width="2" height="8" rx="3"/><rect x="400" y="-4" width="3" height="8" rx="3"/><rect x="406" y="-4" width="3" height="8" rx="3"/><rect x="425" y="-4" width="7" height="8" rx="3"/></g></g>
<g id="C-IbMADS73" transform="translate(0,1174.8)"><text class="tc" x="1.5" y="3">IbMADS73</text><path class="i" d="M46.7 0H300"/><path class="u" d="M46.7 0H63M286 0H300"/><g class="c"><rect x="63" y="-4" width="5" height="8" rx="3"/><rect x="70" y="-4" width="8" height="8" rx="3"/><rect x="132" y="-4" width="2" height="8" rx="3"/><rect x="208" y="-4" width="6" height="8" rx="3"/><rect x="218" y="-4" width="2" height="8" rx="3"/><rect x="233" y="-4" width="2" height="8" rx="3"/><rect x="249" y="-4" width="2" height="8" rx="3"/><rect x="258" y="-4" width="4" height="8" rx="3"/><rect x="270" y="-4" width="3" height="8" rx="3"/><rect x="281" y="-4" width="5" height="8" rx="3"/></g></g>
<g id="C-IbMADS77" transform="translate(0,1186.68)"><text class="tc" x="1.5" y="3">IbMADS77</text><path class="i" d="M46.5 0H226.6"/><path class="u" d="M46.5 0H51.6M202 0H226.6"/><g class="c"><rect x="51.6" y="-4" width="6.9" height="8" rx="3"/><rect x="64.7" y="-4" width="1.2" height="8" rx="3"/><rect x="110.2" y="-4" width="3.4" height="8" rx="3"/><rect x="142.2" y="-4" width="1.3" height="8" rx="3"/><rect x="149" y="-4" width="3" height="8" rx="3"/><rect x="174.6" y="-4" width="1.1" height="8" rx="3"/><rect x="181.5" y="-4" width="7.5" height="8" rx="3"/><rect x="193.5" y="-4" width="2" height="8" rx="3"/><rect x="200.5" y="-4" width="1.5" height="8" rx="3"/></g></g>
<g id="C-IbMADS79" transform="translate(0,1198.55)"><text class="tc" x="1.5" y="3">IbMADS79</text><path class="i" d="M46.5 0H266.5"/><path class="u" d="M46.5 0H56M255 0H266.5"/><g class="c"><rect x="56" y="-4" width="8" height="8" rx="3"/><rect x="75" y="-4" width="1.2" height="8" rx="3"/><rect x="156" y="-4" width="4" height="8" rx="3"/><rect x="174" y="-4" width="2" height="8" rx="3"/><rect x="184" y="-4" width="3" height="8" rx="3"/><rect x="192.6" y="-4" width="1.4" height="8" rx="3"/><rect x="201.4" y="-4" width="1.1" height="8" rx="3"/><rect x="211" y="-4" width="3" height="8" rx="3"/><rect x="250" y="-4" width="5" height="8" rx="3"/></g></g>
<g id="C-IbMADS84" transform="translate(0,1210.43)"><text class="tc" x="1.5" y="3">IbMADS84</text><path class="i" d="M46.5 0H202.7"/><path class="u" d="M46.5 0H56M191 0H202.7"/><g class="c"><rect x="56" y="-4" width="8.5" height="8" rx="3"/><rect x="114" y="-4" width="2" height="8" rx="3"/><rect x="127.5" y="-4" width="1.5" height="8" rx="3"/><rect x="141.5" y="-4" width="2.5" height="8" rx="3"/><rect x="150" y="-4" width="1.1" height="8" rx="3"/><rect x="162" y="-4" width="2" height="8" rx="3"/><rect x="171" y="-4" width="2" height="8" rx="3"/><rect x="189" y="-4" width="2" height="8" rx="3"/></g></g>
<g id="C-IbMADS86" transform="translate(0,1222.3)"><text class="tc" x="1.5" y="3">IbMADS86</text><path class="i" d="M46.5 0H174.6"/><path class="u" d="M46.5 0H52M161.5 0H174.6"/><g class="c"><rect x="52" y="-4" width="9.3" height="8" rx="3"/><rect x="67" y="-4" width="1.5" height="8" rx="3"/><rect x="73.8" y="-4" width="0.8" height="8" rx="3"/><rect x="81" y="-4" width="1.3" height="8" rx="3"/><rect x="88.8" y="-4" width="1" height="8" rx="3"/><rect x="94.4" y="-4" width="1.6" height="8" rx="3"/><rect x="102" y="-4" width="2.5" height="8" rx="3"/><rect x="118.2" y="-4" width="1.3" height="8" rx="3"/><rect x="126.4" y="-4" width="3.6" height="8" rx="3"/><rect x="136.8" y="-4" width="7.2" height="8" rx="3"/><rect x="157.7" y="-4" width="3.8" height="8" rx="3"/></g></g>
</g>
<g id="axis-C">
<path class="ax" d="M46.5 1248.5H507M46.5 1246.3V1248.5M93.8 1246.3V1248.5M141.1 1246.3V1248.5M188.4 1246.3V1248.5M235.7 1246.3V1248.5M283 1246.3V1248.5M330.3 1246.3V1248.5M377.6 1246.3V1248.5M424.9 1246.3V1248.5M472.2 1246.3V1248.5"/>
<text class="tx" x="40" y="1244">5'</text><text class="tx" x="509" y="1244">3'</text>
<text class="tx" x="46.5" y="1255">0kb</text><text class="tx" x="93.8" y="1255">1kb</text><text class="tx" x="141.1" y="1255">2kb</text><text class="tx" x="188.4" y="1255">3kb</text><text class="tx" x="235.7" y="1255">4kb</text><text class="tx" x="283" y="1255">5kb</text><text class="tx" x="330.3" y="1255">6kb</text><text class="tx" x="377.6" y="1255">7kb</text><text class="tx" x="424.9" y="1255">8kb</text><text class="tx" x="472.2" y="1255">9kb</text>
</g>
<g id="panel-D">
<g id="D-IbMADS1" transform="translate(0,937.3)"><path class="bl" d="M547.7 0H613.7"/><rect class="m" x="547.7" y="-4" width="18" height="8"/><rect class="k" x="570.3" y="-4" width="29.4" height="8"/></g>
<g id="D-IbMADS4" transform="translate(0,949.18)"><path class="bl" d="M547.7 0H616.7"/><rect class="m" x="547.7" y="-4" width="18" height="8"/><rect class="k" x="575.7" y="-4" width="24" height="8"/></g>
<g id="D-IbMADS7" transform="translate(0,961.05)"><path class="bl" d="M547.7 0H818.7"/><rect class="m" x="547.7" y="-4" width="18" height="8"/><rect class="lc" x="577.3" y="-4" width="1.7" height="8"/><rect class="cc" x="586" y="-4" width="7.7" height="8"/><rect class="tm" x="616" y="-4" width="6" height="8"/><rect class="lc" x="653.3" y="-4" width="4" height="8"/><rect class="cc" x="677.7" y="-4" width="9.3" height="8"/><rect class="cc" x="696.7" y="-4" width="6.3" height="8"/><rect class="lc" x="756.3" y="-4" width="3" height="8"/></g>
<g id="D-IbMADS9" transform="translate(0,972.93)"><path class="bl" d="M547.7 0H620.7"/><rect class="m" x="547.7" y="-4" width="18" height="8"/><rect class="k" x="571.7" y="-4" width="28.6" height="8"/><rect class="lc" x="606" y="-4" width="3.3" height="8"/></g>
<g id="D-IbMADS14" transform="translate(0,984.8)"><path class="bl" d="M547.7 0H638"/><rect class="m" x="547.7" y="-4" width="18" height="8"/><rect class="k" x="573.3" y="-4" width="26.7" height="8"/></g>
<g id="D-IbMADS31" transform="translate(0,996.68)"><path class="bl" d="M547.7 0H630.7"/><rect class="m" x="547.7" y="-4" width="18" height="8"/><rect class="k" x="580" y="-4" width="25" height="8"/></g>
<g id="D-IbMADS32" transform="translate(0,1008.55)"><path class="bl" d="M547.7 0H617"/><rect class="m" x="547.7" y="-4" width="18" height="8"/><rect class="k" x="574" y="-4" width="26" height="8"/></g>
<g id="D-IbMADS33" transform="translate(0,1020.43)"><path class="bl" d="M547.7 0H620.7"/><rect class="m" x="547.7" y="-4" width="18" height="8"/><rect class="k" x="572" y="-4" width="27" height="8"/><rect class="lc" x="615.3" y="-4" width="3.4" height="8"/></g>
<g id="D-IbMADS34" transform="translate(0,1032.3)"><path class="bl" d="M547.7 0H647.7"/><rect class="m" x="547.7" y="-4" width="18" height="8"/><rect class="lc" x="576" y="-4" width="3.7" height="8"/><rect class="k" x="596" y="-4" width="28.7" height="8"/><rect class="lc" x="628.7" y="-4" width="3" height="8"/></g>
<g id="D-IbMADS35" transform="translate(0,1044.18)"><path class="bl" d="M546.7 0H638.7"/><rect class="m" x="550.7" y="-4" width="14.3" height="8"/><rect class="k" x="580.7" y="-4" width="28.3" height="8"/><rect class="lc" x="632" y="-4" width="3" height="8"/></g>
<g id="D-IbMADS38" transform="translate(0,1056.05)"><path class="bl" d="M547.7 0H625"/><rect class="m" x="547.7" y="-4" width="18" height="8"/><rect class="k" x="573.3" y="-4" width="28" height="8"/><rect class="lc" x="617.3" y="-4" width="2.7" height="8"/></g>
<g id="D-IbMADS50" transform="translate(0,1067.93)"><path class="bl" d="M547.7 0H620"/><rect class="m" x="547.7" y="-4" width="18" height="8"/><rect class="k" x="571" y="-4" width="28" height="8"/><rect class="lc" x="610" y="-4" width="5.7" height="8"/></g>
<g id="D-IbMADS51" transform="translate(0,1079.8)"><path class="bl" d="M547.7 0H616"/><rect class="m" x="547.7" y="-4" width="18" height="8"/><rect class="k" x="576" y="-4" width="24" height="8"/></g>
<g id="D-IbMADS56" transform="translate(0,1091.68)"><path class="bl" d="M547.7 0H615.7"/><rect class="m" x="547.7" y="-4" width="18" height="8"/><rect class="k" x="571" y="-4" width="28" height="8"/></g>
<g id="D-IbMADS58" transform="translate(0,1103.55)"><path class="bl" d="M547.7 0H618"/><rect class="m" x="547.7" y="-4" width="18" height="8"/><rect class="k" x="576" y="-4" width="24" height="8"/></g>
<g id="D-IbMADS60" transform="translate(0,1115.43)"><path class="bl" d="M547 0H820"/><rect class="lc" x="559" y="-4" width="2.5" height="8"/><rect class="tm" x="578" y="-4" width="3" height="8"/><rect class="zf" x="587" y="-4" width="16" height="8"/><rect class="lc" x="625" y="-4" width="3" height="8"/><rect class="m" x="678" y="-4" width="18" height="8"/><rect class="lc" x="703" y="-4" width="3" height="8"/></g>
<g id="D-IbMADS61" transform="translate(0,1127.3)"><path class="bl" d="M547.7 0H620"/><rect class="m" x="547.7" y="-4" width="18" height="8"/><rect class="k" x="573" y="-4" width="32" height="8"/></g>
<g id="D-IbMADS62" transform="translate(0,1139.18)"><path class="bl" d="M547.7 0H615"/><rect class="m" x="547.7" y="-4" width="18" height="8"/><rect class="k" x="573" y="-4" width="27" height="8"/><rect class="lc" x="604" y="-4" width="3.5" height="8"/></g>
<g id="D-IbMADS63" transform="translate(0,1151.05)"><path class="bl" d="M547.7 0H613"/><rect class="m" x="547.7" y="-4" width="18" height="8"/><rect class="k" x="573" y="-4" width="25" height="8"/></g>
<g id="D-IbMADS64" transform="translate(0,1162.93)"><path class="bl" d="M547.7 0H655"/><rect class="m" x="547.7" y="-4" width="18" height="8"/><rect class="k" x="601" y="-4" width="25" height="8"/></g>
<g id="D-IbMADS73" transform="translate(0,1174.8)"><path class="bl" d="M547 0H645"/><rect class="m" x="551" y="-4" width="19" height="8"/><rect class="k" x="600" y="-4" width="27" height="8"/></g>
<g id="D-IbMADS77" transform="translate(0,1186.68)"><path class="bl" d="M547.7 0H637.7"/><rect class="m" x="547.7" y="-4" width="18" height="8"/><rect class="lc" x="579.7" y="-4" width="2.3" height="8"/><rect class="k" x="584" y="-4" width="23.7" height="8"/></g>
<g id="D-IbMADS79" transform="translate(0,1198.55)"><path class="bl" d="M547.7 0H630"/><rect class="m" x="547.7" y="-4" width="18" height="8"/><rect class="lc" x="579.7" y="-4" width="3" height="8"/></g>
<g id="D-IbMADS84" transform="translate(0,1210.43)"><path class="bl" d="M547.7 0H617"/><rect class="m" x="547.7" y="-4" width="18" height="8"/><rect class="k" x="571.3" y="-4" width="27.7" height="8"/></g>
<g id="D-IbMADS86" transform="translate(0,1222.3)"><path class="bl" d="M547.7 0H649.7"/><rect class="m" x="547.7" y="-4" width="18" height="8"/><rect class="cc" x="580.3" y="-4" width="9.7" height="8"/></g>
</g>
<g id="axis-D">
<path class="ax" d="M547.7 1247.5H822.3M547.7 1245.5V1247.5M578.2 1245.5V1247.5M608.7 1245.5V1247.5M639.2 1245.5V1247.5M669.7 1245.5V1247.5M700.3 1245.5V1247.5M730.8 1245.5V1247.5M761.3 1245.5V1247.5M791.8 1245.5V1247.5M822.3 1245.5V1247.5"/>
<text class="tx" x="543" y="1246">5'</text><text class="tx" x="825" y="1246">3'</text>
<text class="tx" x="547.7" y="1254">0</text><text class="tx" x="578.2" y="1254">100</text><text class="tx" x="608.7" y="1254">200</text><text class="tx" x="639.2" y="1254">300</text><text class="tx" x="669.7" y="1254">400</text><text class="tx" x="700.3" y="1254">500</text><text class="tx" x="730.8" y="1254">600</text><text class="tx" x="761.3" y="1254">700</text><text class="tx" x="791.8" y="1254">800</text><text class="tx" x="822.3" y="1254">900</text>
</g>
</svg>
